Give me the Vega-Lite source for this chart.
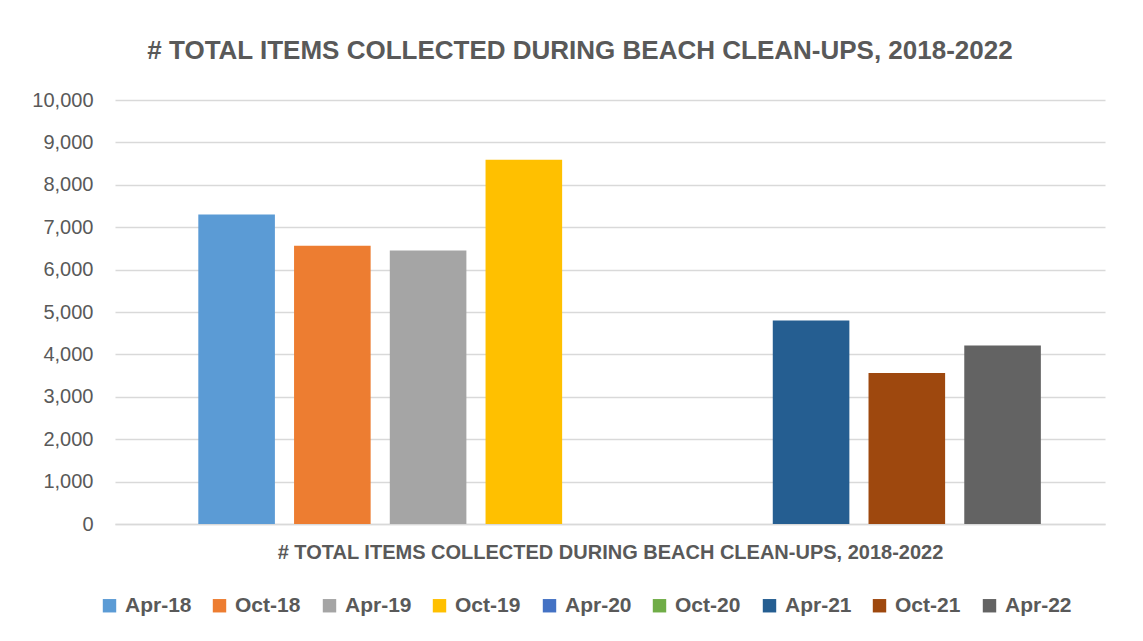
{
  "$schema": "https://vega.github.io/schema/vega-lite/v6.json",
  "width": 990,
  "height": 424,
  "autosize": {"type": "none"},
  "padding": {"left": 115, "top": 100, "right": 38, "bottom": 117},
  "background": "white",
  "title": {
    "text": "# TOTAL ITEMS COLLECTED DURING BEACH CLEAN-UPS, 2018-2022",
    "font": "Liberation Sans",
    "fontSize": 26,
    "fontWeight": "bold",
    "color": "#595959",
    "anchor": "middle",
    "offset": 26,
    "dx": -30
  },
  "data": {
    "values": [
      {"period": "Apr-18", "items": 7300},
      {"period": "Oct-18", "items": 6565},
      {"period": "Apr-19", "items": 6450},
      {"period": "Oct-19", "items": 8590},
      {"period": "Apr-20", "items": 0},
      {"period": "Oct-20", "items": 0},
      {"period": "Apr-21", "items": 4800},
      {"period": "Oct-21", "items": 3560},
      {"period": "Apr-22", "items": 4210}
    ]
  },
  "mark": {"type": "bar"},
  "encoding": {
    "x": {
      "field": "period",
      "type": "nominal",
      "sort": null,
      "scale": {"paddingInner": 0.2, "paddingOuter": 0.77, "align": 0.565},
      "axis": {
        "labels": false,
        "ticks": false,
        "domainColor": "#D9D9D9",
        "domainWidth": 1.5,
        "title": "# TOTAL ITEMS COLLECTED DURING BEACH CLEAN-UPS, 2018-2022",
        "titleFont": "Liberation Sans",
        "titleFontSize": 20,
        "titleFontWeight": "bold",
        "titleColor": "#595959",
        "titlePadding": 18
      }
    },
    "y": {
      "field": "items",
      "type": "quantitative",
      "scale": {"domain": [0, 10000], "nice": false},
      "axis": {
        "values": [0, 1000, 2000, 3000, 4000, 5000, 6000, 7000, 8000, 9000, 10000],
        "format": ",.0f",
        "title": null,
        "domain": false,
        "ticks": false,
        "gridColor": "#D9D9D9",
        "gridWidth": 1.5,
        "labelFont": "Liberation Sans",
        "labelFontSize": 20,
        "labelColor": "#595959",
        "labelPadding": 22
      }
    },
    "color": {
      "field": "period",
      "type": "nominal",
      "sort": null,
      "scale": {
        "domain": ["Apr-18", "Oct-18", "Apr-19", "Oct-19", "Apr-20", "Oct-20", "Apr-21", "Oct-21", "Apr-22"],
        "range": ["#5B9BD5", "#ED7D31", "#A5A5A5", "#FFC000", "#4472C4", "#70AD47", "#255E91", "#9E480E", "#636363"]
      },
      "legend": {
        "orient": "none",
        "legendX": -16,
        "legendY": 495,
        "direction": "horizontal",
        "columns": 9,
        "gridAlign": "all",
        "columnPadding": 17,
        "title": null,
        "symbolType": "square",
        "symbolSize": 180,
        "symbolStrokeWidth": 0,
        "labelFont": "Liberation Sans",
        "labelFontSize": 21,
        "labelFontWeight": "bold",
        "labelColor": "#595959",
        "labelOffset": 5
      }
    }
  },
  "config": {"view": {"stroke": null}}
}
